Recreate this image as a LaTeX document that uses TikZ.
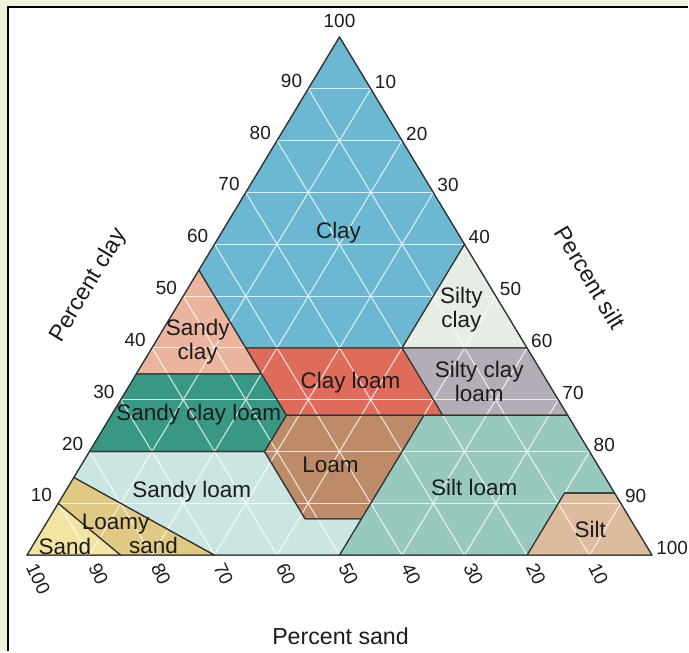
\documentclass[tikz,border=0pt]{standalone}
\usepackage{fontspec}
\setmainfont{Liberation Sans}
\usetikzlibrary{positioning}

\definecolor{frameback}{RGB}{237,242,221}
\definecolor{zoneline}{RGB}{50,52,52}
\definecolor{textdark}{RGB}{28,28,28}
\definecolor{claycol}{RGB}{108,184,210}
\definecolor{siltyclaycol}{RGB}{230,237,228}
\definecolor{sandyclaycol}{RGB}{235,180,159}
\definecolor{clayloamcol}{RGB}{223,107,90}
\definecolor{siltyclayloamcol}{RGB}{179,173,183}
\definecolor{sandyclayloamcol}{RGB}{56,152,132}
\definecolor{loamcol}{RGB}{190,139,104}
\definecolor{siltloamcol}{RGB}{152,201,191}
\definecolor{siltcol}{RGB}{221,188,158}
\definecolor{sandyloamcol}{RGB}{203,229,227}
\definecolor{loamysandcol}{RGB}{224,201,133}
\definecolor{sandcol}{RGB}{244,228,164}

\begin{document}
\begin{tikzpicture}[x=1pt, y=1pt]
    \tikzset{
      zone/.style={draw=zoneline, line width=1.1pt, line join=round},
      gridline/.style={white, opacity=0.75, line width=1.1pt},
      zonelabel/.style={font=\fontsize{22.5}{24}\selectfont, text=textdark, align=center, inner sep=0pt},
      ticklabel/.style={font=\fontsize{19}{19}\selectfont, text=textdark, inner sep=0pt},
      axislabel/.style={font=\fontsize{23.2}{24}\selectfont, text=textdark, inner sep=0pt},
    }
    % frame
    \fill[frameback] (0,0) rectangle (689,652);
    \fill[white] (9,0) rectangle (689,644);
    \draw[black, line width=2pt] (8.3,0) -- (8.3,645) -- (689,645);

    % zones, in (silt, clay)
    \def\zonelist{claycol/{(0,100) -- (40,60) -- (40,40) -- (15,40) -- (0,55)},
      siltyclaycol/{(40,60) -- (60,40) -- (40,40)},
      sandyclaycol/{(0,55) -- (20,35) -- (0,35)},
      clayloamcol/{(15,40) -- (40,40) -- (53,27) -- (28,27)},
      siltyclayloamcol/{(40,40) -- (60,40) -- (73,27) -- (53,27)},
      sandyclayloamcol/{(0,35) -- (20,35) -- (28,27) -- (28,20) -- (0,20)},
      loamcol/{(28,27) -- (50,27) -- (50,7) -- (41,7) -- (28,20)},
      siltloamcol/{(50,27) -- (73,27) -- (88,12) -- (80,12) -- (80,0) -- (50,0) -- (50,7)},
      siltcol/{(80,12) -- (88,12) -- (100,0) -- (80,0)},
      sandyloamcol/{(0,20) -- (28,20) -- (41,7) -- (50,7) -- (50,0) -- (30,0) -- (0,15)},
      loamysandcol/{(0,15) -- (30,0) -- (15,0) -- (0,10)},
      sandcol/{(0,10) -- (15,0) -- (0,0)}}
    \begin{scope}[shift={(27,96)}, x={(6.26pt,0pt)}, y={(3.13pt,5.19pt)}]
      \foreach \zcol/\zpath in \zonelist {
        \fill[\zcol] \zpath -- cycle;
      }
      % grid
      \foreach \k in {10,20,...,90} {
        \draw[gridline] (0,\k) -- (100-\k,\k);
        \draw[gridline] (\k,0) -- (\k,100-\k);
        \draw[gridline] (\k,0) -- (0,\k);
      }
      \foreach \zcol/\zpath in \zonelist {
        \draw[zone] \zpath -- cycle;
      }
      \draw[zone] (0,0) -- (100,0) -- (0,100) -- cycle;

      % ticks
      \foreach \c in {10,20,...,90} {
        \node[ticklabel, anchor=east, xshift=-6pt, yshift=8pt] (clay\c) at (0,\c) {\c};
      }
      \node[ticklabel, anchor=south, yshift=9pt] (clay100) at (0,100) {100};
      \foreach \s in {10,20,...,100} {
        \node[ticklabel, anchor=west, xshift=4pt, yshift=7pt] (silt\s) at (\s,100-\s) {\s};
      }
      \foreach \p in {100,90,...,10} {
        \node[ticklabel, xshift=4.5pt, yshift=-9pt, rotate=-65, anchor=west] (sand\p) at (100-\p,0) {\p};
      }
    \end{scope}

    % zone names
    \node[zonelabel] (clay) at (339,419) {Clay};
    \node[zonelabel] (siltyclay) at (462,342) {Silty\\clay};
    \node[zonelabel] (sandyclay) at (198,310) {Sandy\\clay};
    \node[zonelabel] (clayloam) at (351,269) {Clay loam};
    \node[zonelabel] (siltyclayloam) at (480,270) {Silty clay\\loam};
    \node[zonelabel] (sandyclayloam) at (199,237) {Sandy clay loam};
    \node[zonelabel] (loam) at (331,186) {Loam};
    \node[zonelabel] (sandyloam) at (192,160) {Sandy loam};
    \node[zonelabel] (siltloam) at (475,164) {Silt loam};
    \node[zonelabel] (silt) at (591,122) {Silt};
    \node[zonelabel, align=left] (loamysand) at (130,117) {Loamy\\\hspace*{2.1em}sand};
    \node[zonelabel] (sand) at (65,105) {Sand};

    % axis names
    \node[axislabel, rotate=59] (pclay) at (89,366) {Percent clay};
    \node[axislabel, rotate=-59] (psilt) at (591,374) {Percent silt};
    \node[axislabel] (psand) at (341,15) {Percent sand};
\end{tikzpicture}
\end{document}
